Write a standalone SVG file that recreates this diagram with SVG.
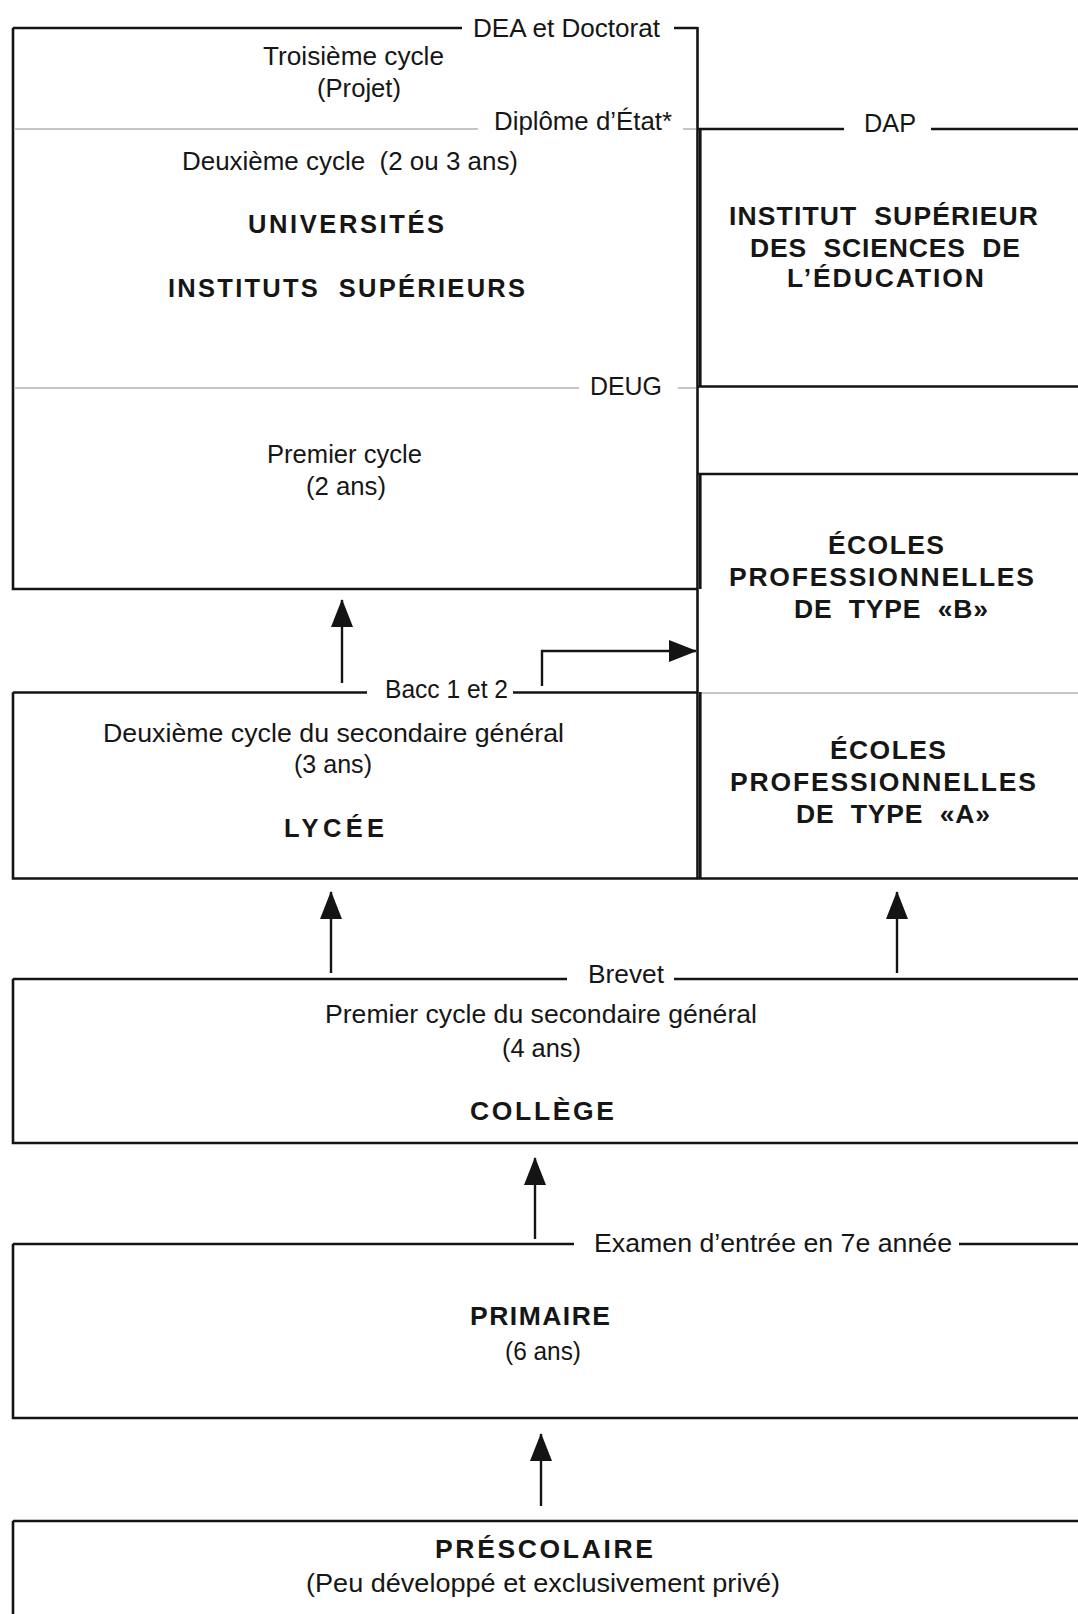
<svg xmlns="http://www.w3.org/2000/svg" width="1078" height="1614" viewBox="0 0 1078 1614">
<style>
.ln{stroke:#141414;stroke-width:2.6;fill:none}
.gl{stroke:#c6c6c6;stroke-width:2.2;fill:none}
.t{font-family:"Liberation Sans",Arial,Helvetica,sans-serif;font-size:25px;fill:#161616}
.b{font-weight:bold}
.s24{font-size:25.5px}
.s26{font-size:26.5px}
.ar{stroke:#141414;stroke-width:2.4;fill:none;marker-end:url(#ah)}
</style>
<defs>
<marker id="ah" viewBox="0 0 28 22" refX="27" refY="11" markerWidth="28" markerHeight="22" orient="auto" markerUnits="userSpaceOnUse">
<path d="M0,0 L28,11 L0,22 Z" fill="#141414"/>
</marker>
</defs>
<rect width="1078" height="1614" fill="#ffffff"/>

<g id="universites">
<path class="ln" d="M13,28 H462 M674,28 H697.5 M13,27.7 V589 H697.5 M697.5,27 V589"/>
<path class="gl" d="M14,129 H478 M683,129 H696 M14,388 H579 M678,388 H696"/>
<text class="t" x="473" y="37" textLength="187" lengthAdjust="spacingAndGlyphs">DEA et Doctorat</text>
<text class="t" x="263" y="65" textLength="181" lengthAdjust="spacingAndGlyphs">Troisième cycle</text>
<text class="t" x="317" y="97" textLength="84" lengthAdjust="spacingAndGlyphs">(Projet)</text>
<text class="t" x="494" y="130" textLength="178" lengthAdjust="spacingAndGlyphs">Diplôme d’État*</text>
<text class="t" x="182" y="170" textLength="336" lengthAdjust="spacingAndGlyphs" xml:space="preserve">Deuxième cycle  (2 ou 3 ans)</text>
<text class="t b s24" x="248" y="233" textLength="196" lengthAdjust="spacing">UNIVERSITÉS</text>
<text class="t b s24" x="168" y="297" textLength="357" lengthAdjust="spacing" xml:space="preserve">INSTITUTS  SUPÉRIEURS</text>
<text class="t" x="590" y="395" textLength="72" lengthAdjust="spacingAndGlyphs">DEUG</text>
<text class="t" x="267" y="463" textLength="155" lengthAdjust="spacingAndGlyphs">Premier cycle</text>
<text class="t" x="306" y="495" textLength="80" lengthAdjust="spacingAndGlyphs">(2 ans)</text>
</g>

<g id="isse">
<path class="ln" d="M698,129 H844 M931,129 H1078 M698,386.5 H1078 M700.3,129 V387"/>
<text class="t" x="864" y="132" textLength="52" lengthAdjust="spacingAndGlyphs">DAP</text>
<text class="t b s26" x="729" y="225" textLength="309" lengthAdjust="spacing" xml:space="preserve">INSTITUT  SUPÉRIEUR</text>
<text class="t b s26" x="750" y="257" textLength="270" lengthAdjust="spacing" xml:space="preserve">DES  SCIENCES  DE</text>
<text class="t b s26" x="787" y="287" textLength="197" lengthAdjust="spacing">L’ÉDUCATION</text>
</g>

<g id="ecoles-b">
<path class="ln" d="M698,474 H1078 M700.3,474 V589"/>
<path class="gl" d="M699,693 H1078"/>
<text class="t b s26" x="828" y="554" textLength="116" lengthAdjust="spacing">ÉCOLES</text>
<text class="t b s26" x="729" y="586" textLength="305" lengthAdjust="spacing">PROFESSIONNELLES</text>
<text class="t b s26" x="794" y="618" textLength="194" lengthAdjust="spacing" xml:space="preserve">DE  TYPE  «B»</text>
</g>

<g id="ecoles-a">
<path class="ln" d="M700.3,692 V879 M697,878.5 H1078"/>
<text class="t b s26" x="830" y="759" textLength="116" lengthAdjust="spacing">ÉCOLES</text>
<text class="t b s26" x="730" y="791" textLength="306" lengthAdjust="spacing">PROFESSIONNELLES</text>
<text class="t b s26" x="796" y="823" textLength="194" lengthAdjust="spacing" xml:space="preserve">DE  TYPE  «A»</text>
</g>

<g id="lycee">
<path class="ln" d="M13,692.5 H367 M513,692.5 H697.5 M13,692.2 V878.5 H697.5 M697.5,589 V879"/>
<text class="t" x="385" y="698" textLength="123" lengthAdjust="spacingAndGlyphs">Bacc 1 et 2</text>
<text class="t" x="103" y="742" textLength="461" lengthAdjust="spacingAndGlyphs">Deuxième cycle du secondaire général</text>
<text class="t" x="294" y="773" textLength="78" lengthAdjust="spacingAndGlyphs">(3 ans)</text>
<text class="t b s24" x="284" y="837" textLength="100" lengthAdjust="spacing">LYCÉE</text>
</g>

<g id="college">
<path class="ln" d="M13,979 H567 M674,979 H1078 M13,978.7 V1143 H1078"/>
<text class="t" x="588" y="983" textLength="76" lengthAdjust="spacingAndGlyphs">Brevet</text>
<text class="t" x="325" y="1023" textLength="432" lengthAdjust="spacingAndGlyphs">Premier cycle du secondaire général</text>
<text class="t" x="502" y="1057" textLength="79" lengthAdjust="spacingAndGlyphs">(4 ans)</text>
<text class="t b s26" x="470" y="1120" textLength="144" lengthAdjust="spacing">COLLÈGE</text>
</g>

<g id="primaire">
<path class="ln" d="M13,1244 H574 M959,1244 H1078 M13,1243.7 V1418 H1078"/>
<text class="t" x="594" y="1252" textLength="358" lengthAdjust="spacingAndGlyphs">Examen d’entrée en 7e année</text>
<text class="t b s26" x="470" y="1325" textLength="140" lengthAdjust="spacing">PRIMAIRE</text>
<text class="t" x="505" y="1360" textLength="76" lengthAdjust="spacingAndGlyphs">(6 ans)</text>
</g>

<g id="prescolaire">
<path class="ln" d="M13,1521 H1078 M13,1520.7 V1614"/>
<text class="t b s26" x="435" y="1558" textLength="218" lengthAdjust="spacing">PRÉSCOLAIRE</text>
<text class="t" x="306" y="1592" textLength="474" lengthAdjust="spacingAndGlyphs">(Peu développé et exclusivement privé)</text>
</g>

<g id="connectors">
<path class="ar" d="M342,683 V600"/>
<path class="ar" d="M542,686 V651 H696"/>
<path class="ar" d="M331,973 V892"/>
<path class="ar" d="M897,973 V892"/>
<path class="ar" d="M535,1239 V1158"/>
<path class="ar" d="M541,1506 V1434"/>
</g>
</svg>
